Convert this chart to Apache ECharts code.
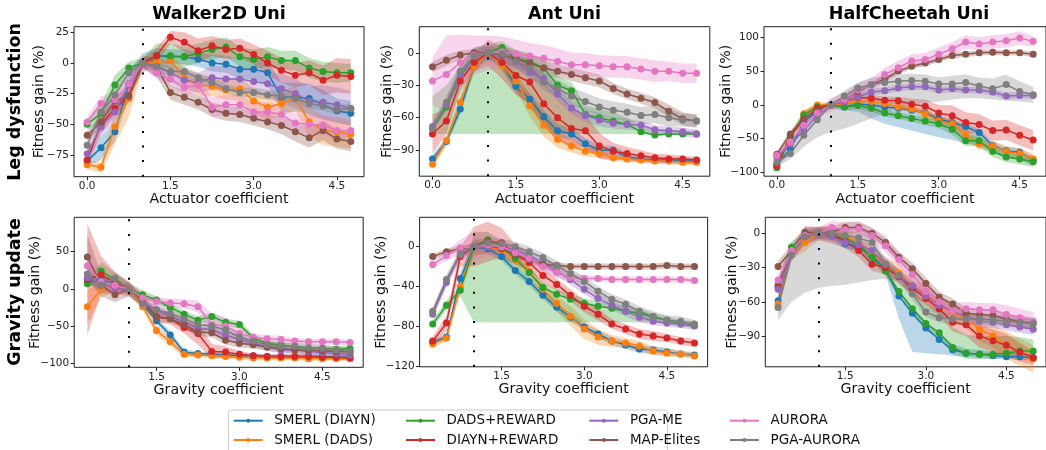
<!DOCTYPE html>
<html><head><meta charset="utf-8">
<script src="https://cdn.jsdelivr.net/npm/echarts@6/dist/echarts.min.js"></script>
<style>html,body{margin:0;padding:0;background:#fff}#c{width:1046px;height:450px}</style>
</head><body><div id="c"></div>
<script>
const X_TOP = [0,0.25,0.5,0.75,1,1.25,1.5,1.75,2,2.25,2.5,2.75,3,3.25,3.5,3.75,4,4.25,4.5,4.75];
const X_BOT = [0.25,0.5,0.75,1,1.25,1.5,1.75,2,2.25,2.5,2.75,3,3.25,3.5,3.75,4,4.25,4.5,4.75,5];
const METHODS = ['SMERL (DIAYN)','SMERL (DADS)','DADS+REWARD','DIAYN+REWARD','PGA-ME','MAP-Elites','AURORA','PGA-AURORA'];
const COLORS = ['#1f77b4','#ff7f0e','#2ca02c','#d62728','#9467bd','#8c564b','#e377c2','#7f7f7f'];
const TITLES = ['Walker2D Uni','Ant Uni','HalfCheetah Uni'];
const ROWS = ['Leg dysfunction','Gravity update'];
const X_NAMES = ['Actuator coefficient','Gravity coefficient'];
const Y_NAME = 'Fitness gain (%)';
const X_TICKS_TOP = [0,1.5,3,4.5];
const X_TICKS_BOT = [1.5,3,4.5];
const Y_TICKS = [[25,0,-25,-50,-75],[0,-30,-60,-90],[100,50,0,-50,-100],[50,0,-50,-100],[0,-40,-80,-120],[0,-30,-60,-90]];

// ---- Walker2D leg dysfunction
const wl_smerlDiayn=[-80,-69,-56,-17,0,6,5,5,3,0,-1,-5,-5,-8,-28,-28,-29,-34,-39,-41];
const wl_smerlDads=[-83,-85,-52,-29,0,0,2,-12,-18,-19,-22,-21,-31,-36,-33,-29,-48,-55,-56,-58];
const wl_dadsRew=[-50,-41,-18,-4,0,6,6,5,8,11,13,5,3,5,2,2,-4,-7,-8,-8];
const wl_diaynRew=[-79,-50,-37,-27,0,6,21,17,10,14,11,12,7,0,-6,-10,-8,-14,-10,-11];
const wl_pgaMe=[-74,-52,-40,-18,0,-3,-8,-14,-16,-12,-13,-13,-15,-17,-21,-25,-31,-32,-34,-37];
const wl_mapEl=[-59,-48,-31,-27,0,-3,-24,-28,-32,-38,-41,-42,-45,-48,-51,-56,-61,-55,-62,-64];
const wl_aurora=[-48,-33,-30,-17,0,-8,-13,-20,-18,-36,-34,-34,-40,-40,-42,-49,-50,-51,-55,-55];
const wl_pgaAurora=[-67,-40,-26,-8,0,-3,-7,-7,-12,-16,-21,-24,-24,-26,-27,-29,-33,-35,-38,-37];
const wl_smerlDiayn_sd=[4,10,8,10,8,6,6,6,6,7,7,8,8,10,12,12,12,12,10,10];
const wl_smerlDads_sd=[4,4,14,15,6,5,6,8,8,8,8,10,10,10,10,10,12,12,12,12];
const wl_dadsRew_sd=[4,8,8,5,4,10,10,8,8,8,8,8,8,8,8,8,8,8,8,7];
const wl_diaynRew_sd=[4,8,6,5,4,6,5,8,10,8,8,8,8,10,10,10,10,12,14,14];
const wl_pgaMe_sd=[4,6,8,5,4,8,8,8,8,10,10,10,10,10,12,12,12,14,14,14];
const wl_mapEl_sd=[4,5,6,4,4,8,6,6,6,6,6,6,6,6,7,8,8,8,8,8];
const wl_aurora_sd=[4,6,6,6,4,5,6,6,6,8,8,8,8,8,8,8,8,8,8,6];
const wl_pgaAurora_sd=[4,5,5,4,4,4,4,4,4,4,4,4,4,4,4,4,4,4,4,4];

// ---- Ant leg dysfunction
const al_smerlDiayn=[-98,-82,-52,-12,0,-10,-31,-43,-59,-72,-75,-84,-90,-90,-96,-98,-99,-99,-100,-100];
const al_smerlDads=[-103,-81,-46,-12,0,-11,-26,-49,-67,-80,-86,-91,-93,-97,-98,-99,-100,-100,-101,-101];
const al_dadsRew=[-70,-50,-22,-3,0,5,-6,-8,-14,-30,-35,-57,-60,-63,-66,-73,-76,-75,-75,-75];
const al_diaynRew=[-75,-63,-26,-9,0,-9,-21,-27,-47,-60,-70,-72,-86,-91,-93,-95,-97,-98,-98,-99];
const al_pgaMe=[-68,-48,-20,-3,0,-2,-8,-18,-24,-38,-51,-58,-62,-65,-66,-67,-71,-72,-73,-75];
const al_mapEl=[-13,-7,-2,0,0,-2,-5,-10,-14,-17,-20,-23,-26,-33,-38,-42,-46,-54,-61,-63];
const al_aurora=[-26,-20,-9,-2,0,1,-1,-3,-5,-8,-11,-11,-12,-13,-13,-15,-17,-17,-19,-19];
const al_pgaAurora=[-70,-46,-17,-3,0,-1,-8,-14,-27,-33,-40,-45,-50,-53,-55,-58,-57,-60,-62,-63];
const al_smerlDiayn_sd=[4,4,5,6,4,5,6,6,6,6,5,5,5,4,4,3,3,3,3,3];
const al_smerlDads_sd=[5,4,5,6,4,6,8,10,10,8,6,5,4,3,3,3,3,3,3,3];
const al_dadsRew_sd=[30,20,10,8,8,6,8,8,8,8,8,8,8,8,6,5,5,4,3,3];
const al_dadsRew_lo=[-75,-75,-75,-75,-75,-75,-75,-75,-75,-75,-75,-75,-75,-75,-75,-75,-77,-76,-76,-76];
const al_diaynRew_sd=[18,12,8,8,12,15,18,20,20,20,18,15,12,8,6,5,4,4,3,3];
const al_pgaMe_sd=[4,5,6,5,6,6,6,6,6,6,6,6,6,5,5,4,4,4,4,4];
const al_mapEl_sd=[5,5,4,4,6,8,8,8,8,6,6,6,6,5,5,5,5,6,6,6];
const al_aurora_sd=[22,36,26,18,16,14,13,12,12,12,11,11,10,10,10,10,10,9,9,9];
const al_pgaAurora_sd=[5,6,8,8,8,8,8,8,8,8,8,8,8,8,8,8,8,8,6,6];

// ---- HalfCheetah leg dysfunction
const hl_smerlDiayn=[-88,-65,-25,-10,0,-3,1,0,-3,-5,-8,-12,-21,-26,-32,-41,-60,-68,-70,-82];
const hl_smerlDads=[-91,-50,-13,0,0,2,5,5,2,-3,-6,-13,-24,-28,-44,-58,-61,-69,-72,-80];
const hl_dadsRew=[-93,-48,-15,-3,0,-3,-1,-5,-12,-16,-20,-24,-28,-36,-53,-53,-69,-77,-80,-84];
const hl_diaynRew=[-90,-45,-22,-5,0,5,11,10,7,6,1,-2,-12,-16,-26,-29,-38,-37,-45,-52];
const hl_pgaMe=[-78,-58,-38,-15,0,5,12,19,21,25,27,27,22,24,22,22,19,13,14,14];
const hl_mapEl=[-73,-43,-20,-8,0,8,20,30,38,50,57,62,67,73,75,77,78,77,77,75];
const hl_aurora=[-75,-55,-30,-12,0,8,22,30,45,55,65,67,75,83,93,90,93,95,99,94];
const hl_pgaAurora=[-85,-72,-45,-22,0,13,25,30,33,35,36,35,31,31,33,28,24,30,20,15];
const hl_smerlDiayn_sd=[4,6,6,4,3,4,4,4,4,4,4,4,4,4,5,5,5,6,6,6];
const hl_smerlDiayn_lo=[-92,-72,-32,-15,-5,-8,-10,-20,-28,-33,-38,-43,-48,-52,-57,-60,-70,-78,-82,-90];
const hl_smerlDads_sd=[4,5,5,4,3,5,5,5,5,5,5,6,8,8,8,8,8,8,8,8];
const hl_dadsRew_sd=[4,8,6,4,3,5,5,5,5,5,5,6,6,8,8,8,8,8,8,8];
const hl_diaynRew_sd=[4,5,5,4,3,5,5,5,5,6,8,10,12,15,15,15,15,15,15,15];
const hl_pgaMe_sd=[4,5,5,4,3,5,5,5,5,5,5,5,5,5,5,5,5,5,5,5];
const hl_mapEl_sd=[4,4,4,4,3,4,4,4,4,4,4,4,4,4,4,4,4,4,4,4];
const hl_aurora_sd=[4,5,5,5,10,10,10,10,10,10,10,10,10,10,10,10,10,10,10,8];
const hl_pgaAurora_sd=[4,5,6,6,8,8,8,10,10,10,10,10,10,12,12,12,15,15,15,12];
const hl_pgaAurora_lo=[-92,-80,-62,-48,-40,-35,-28,-20,-12,-5,0,3,5,8,10,10,8,6,5,3];

// ---- Walker2D gravity update
const wg_smerlDiayn=[10,12,5,0,-20,-43,-62,-85,-87,-88,-89,-90,-90,-91,-91,-91,-91,-91,-92,-92];
const wg_smerlDads=[-24,0,5,0,-24,-56,-71,-88,-89,-90,-91,-92,-93,-93,-93,-93,-94,-94,-94,-94];
const wg_dadsRew=[7,24,12,0,-8,-15,-25,-34,-42,-37,-45,-48,-66,-73,-75,-78,-80,-80,-81,-80];
const wg_diaynRew=[13,19,8,0,-15,-37,-40,-52,-60,-84,-85,-88,-90,-91,-91,-91,-91,-92,-92,-93];
const wg_pgaMe=[15,8,0,0,-18,-28,-37,-45,-53,-55,-62,-68,-73,-78,-82,-82,-84,-86,-87,-89];
const wg_mapEl=[43,5,-8,0,-18,-38,-40,-48,-58,-59,-69,-73,-75,-78,-80,-82,-83,-83,-84,-85];
const wg_aurora=[31,10,5,0,-12,-17,-19,-20,-24,-48,-50,-60,-65,-67,-68,-70,-71,-71,-71,-72];
const wg_pgaAurora=[20,5,14,0,-20,-28,-33,-40,-48,-50,-55,-65,-70,-75,-77,-77,-79,-80,-82,-84];
const wg_smerlDiayn_sd=[6,6,5,4,4,5,5,4,3,3,3,3,3,3,3,3,3,3,3,3];
const wg_smerlDads_sd=[22,12,8,6,5,6,6,4,3,3,3,3,3,3,3,3,3,3,3,3];
const wg_dadsRew_sd=[5,12,10,8,6,5,5,5,5,5,5,5,5,4,4,4,4,4,4,4];
const wg_diaynRew_sd=[75,25,15,10,8,8,8,8,15,10,8,5,3,3,3,3,3,3,3,3];
const wg_pgaMe_sd=[8,8,8,6,5,6,6,6,6,6,6,6,5,5,5,5,5,5,5,5];
const wg_mapEl_sd=[30,15,10,10,6,6,6,6,6,6,6,6,5,5,5,5,5,5,5,5];
const wg_aurora_sd=[10,10,8,8,6,6,6,6,8,15,12,8,5,5,5,4,4,4,4,4];
const wg_pgaAurora_sd=[10,10,8,8,5,5,5,5,6,6,6,6,5,5,5,5,5,5,5,5];

// ---- Ant gravity update
const ag_smerlDiayn=[-96,-91,-32,0,-2,-10,-24,-35,-49,-61,-71,-81,-88,-95,-99,-103,-104,-106,-108,-109];
const ag_smerlDads=[-98,-92,-40,0,0,-3,-13,-25,-43,-57,-70,-83,-91,-95,-97,-100,-105,-107,-108,-110];
const ag_dadsRew=[-78,-59,-44,0,7,0,-12,-26,-41,-48,-53,-57,-60,-62,-65,-67,-71,-74,-78,-79];
const ag_diaynRew=[-95,-77,-10,0,5,4,-8,-16,-29,-38,-49,-60,-68,-78,-83,-88,-90,-92,-95,-97];
const ag_pgaMe=[-68,-36,-8,0,0,0,-3,-9,-16,-25,-33,-43,-52,-59,-65,-71,-75,-77,-78,-80];
const ag_mapEl=[-10,-5,-2,0,2,-2,-8,-13,-18,-19,-20,-20,-20,-20,-20,-20,-20,-19,-20,-20];
const ag_aurora=[-18,-9,-1,0,2,0,-6,-12,-20,-26,-31,-32,-32,-33,-33,-33,-33,-33,-33,-34];
const ag_pgaAurora=[-65,-33,-7,0,4,3,0,-5,-11,-19,-27,-35,-45,-53,-58,-65,-70,-74,-75,-78];
const ag_smerlDiayn_sd=[3,3,6,8,5,4,4,4,4,4,4,4,4,4,4,4,4,4,3,3];
const ag_smerlDads_sd=[3,4,8,10,6,6,6,6,6,8,10,10,8,6,5,5,4,4,3,3];
const ag_dadsRew_sd=[4,5,5,15,8,5,5,5,5,5,5,5,5,5,5,5,4,4,4,4];
const ag_dadsRew_lo=[-82,-64,-50,-76,-76,-76,-76,-76,-76,-76,-76,-76,-76,-76,-76,-76,-76,-78,-80,-82];
const ag_diaynRew_sd=[4,8,10,20,20,15,10,8,8,6,6,6,6,5,5,5,5,4,4,4];
const ag_pgaMe_sd=[4,5,5,5,5,5,5,5,5,5,5,5,5,5,5,5,4,4,4,4];
const ag_mapEl_sd=[3,3,3,3,3,3,3,3,3,3,3,3,3,3,3,3,3,3,3,3];
const ag_aurora_sd=[4,5,8,15,12,8,6,5,5,5,4,3,3,3,3,3,3,3,3,3];
const ag_pgaAurora_sd=[4,5,5,5,5,5,5,5,5,5,5,5,5,5,5,5,5,5,5,4];

// ---- HalfCheetah gravity update
const hg_smerlDiayn=[-59,-18,-3,0,-1,-9,-12,-20,-32,-55,-70,-83,-93,-102,-105,-106,-107,-108,-108,-109];
const hg_smerlDads=[-62,-18,-8,0,-1,-3,-7,-18,-27,-35,-46,-54,-62,-70,-75,-84,-90,-98,-104,-110];
const hg_dadsRew=[-45,-12,-2,0,-1,-5,-10,-21,-33,-51,-66,-79,-87,-100,-105,-106,-106,-105,-103,-103];
const hg_diaynRew=[-47,-18,-2,0,-1,-7,-15,-27,-30,-38,-48,-57,-66,-78,-80,-90,-94,-98,-104,-109];
const hg_pgaMe=[-49,-18,-3,0,-3,-8,-10,-15,-27,-37,-46,-55,-63,-68,-73,-77,-78,-80,-82,-84];
const hg_mapEl=[-29,-15,1,0,1,5,5,0,-8,-21,-31,-44,-56,-62,-70,-71,-72,-75,-77,-79];
const hg_aurora=[-41,-15,-2,0,5,3,4,-2,-11,-23,-36,-51,-60,-68,-66,-67,-67,-71,-74,-77];
const hg_pgaAurora=[-65,-19,-3,0,0,-2,-4,-8,-27,-37,-53,-69,-74,-75,-75,-75,-76,-77,-78,-79];
const hg_smerlDiayn_sd=[5,5,4,3,3,3,3,4,4,5,6,6,6,5,4,4,3,3,3,3];
const hg_smerlDiayn_lo=[-65,-25,-8,-5,-5,-13,-16,-25,-36,-75,-104,-105,-106,-107,-108,-109,-110,-110,-111,-111];
const hg_smerlDads_sd=[6,5,8,6,5,6,6,6,6,8,8,8,8,8,8,10,10,12,12,12];
const hg_dadsRew_sd=[5,5,4,3,3,3,3,4,4,5,6,6,6,6,5,4,4,4,4,4];
const hg_dadsRew_hiSd=[5,5,4,3,3,3,3,5,5,8,15,18,20,18,16,16,16,15,12,10];
const hg_diaynRew_sd=[6,5,8,6,8,6,6,6,6,6,6,6,6,8,10,10,10,10,8,6];
const hg_pgaMe_sd=[5,5,6,5,4,5,5,5,6,6,6,6,6,6,5,5,5,5,5,5];
const hg_mapEl_sd=[5,5,5,5,5,5,5,5,5,5,5,5,5,5,5,5,5,5,5,5];
const hg_aurora_sd=[5,5,5,5,6,6,6,6,6,6,6,6,6,6,6,6,6,8,8,8];
const hg_pgaAurora_sd=[5,5,5,5,5,5,5,5,5,5,5,5,5,5,5,5,5,5,5,5];
const hg_pgaAurora_lo=[-76,-60,-52,-48,-46,-45,-43,-41,-40,-42,-58,-73,-78,-80,-80,-80,-81,-82,-83,-84];

// ---------- build ----------
function S(mean, sd, loAbs, hiSd) {
  return { mean: mean,
    lo: mean.map((v,i) => loAbs ? loAbs[i] : v - sd[i]),
    hi: mean.map((v,i) => v + (hiSd ? hiSd[i] : sd[i])) };
}
const PANELS = [
  { x: X_TOP, s: [S(wl_smerlDiayn,wl_smerlDiayn_sd),S(wl_smerlDads,wl_smerlDads_sd),S(wl_dadsRew,wl_dadsRew_sd),S(wl_diaynRew,wl_diaynRew_sd),S(wl_pgaMe,wl_pgaMe_sd),S(wl_mapEl,wl_mapEl_sd),S(wl_aurora,wl_aurora_sd),S(wl_pgaAurora,wl_pgaAurora_sd)] },
  { x: X_TOP, s: [S(al_smerlDiayn,al_smerlDiayn_sd),S(al_smerlDads,al_smerlDads_sd),S(al_dadsRew,al_dadsRew_sd,al_dadsRew_lo),S(al_diaynRew,al_diaynRew_sd),S(al_pgaMe,al_pgaMe_sd),S(al_mapEl,al_mapEl_sd),S(al_aurora,al_aurora_sd),S(al_pgaAurora,al_pgaAurora_sd)] },
  { x: X_TOP, s: [S(hl_smerlDiayn,hl_smerlDiayn_sd,hl_smerlDiayn_lo),S(hl_smerlDads,hl_smerlDads_sd),S(hl_dadsRew,hl_dadsRew_sd),S(hl_diaynRew,hl_diaynRew_sd),S(hl_pgaMe,hl_pgaMe_sd),S(hl_mapEl,hl_mapEl_sd),S(hl_aurora,hl_aurora_sd),S(hl_pgaAurora,hl_pgaAurora_sd,hl_pgaAurora_lo)] },
  { x: X_BOT, s: [S(wg_smerlDiayn,wg_smerlDiayn_sd),S(wg_smerlDads,wg_smerlDads_sd),S(wg_dadsRew,wg_dadsRew_sd),S(wg_diaynRew,wg_diaynRew_sd),S(wg_pgaMe,wg_pgaMe_sd),S(wg_mapEl,wg_mapEl_sd),S(wg_aurora,wg_aurora_sd),S(wg_pgaAurora,wg_pgaAurora_sd)] },
  { x: X_BOT, s: [S(ag_smerlDiayn,ag_smerlDiayn_sd),S(ag_smerlDads,ag_smerlDads_sd),S(ag_dadsRew,ag_dadsRew_sd,ag_dadsRew_lo),S(ag_diaynRew,ag_diaynRew_sd),S(ag_pgaMe,ag_pgaMe_sd),S(ag_mapEl,ag_mapEl_sd),S(ag_aurora,ag_aurora_sd),S(ag_pgaAurora,ag_pgaAurora_sd)] },
  { x: X_BOT, s: [S(hg_smerlDiayn,hg_smerlDiayn_sd,hg_smerlDiayn_lo),S(hg_smerlDads,hg_smerlDads_sd),S(hg_dadsRew,hg_dadsRew_sd,null,hg_dadsRew_hiSd),S(hg_diaynRew,hg_diaynRew_sd),S(hg_pgaMe,hg_pgaMe_sd),S(hg_mapEl,hg_mapEl_sd),S(hg_aurora,hg_aurora_sd),S(hg_pgaAurora,hg_pgaAurora_sd,hg_pgaAurora_lo)] }
];

// layout (pixels) of the six axes boxes
const GRIDS = [
  {left:74, top:26.7, width:290, height:150},
  {left:419.3, top:26.7, width:290.5, height:149.5},
  {left:764, top:26.7, width:290.5, height:149.5},
  {left:74.2, top:217.3, width:289, height:150},
  {left:419.6, top:217.3, width:288, height:149.5},
  {left:765.3, top:217.3, width:288, height:149.5}
];
const X_RANGE = [[-0.2375,4.9875],[0.0125,5.2375]];
const Y_RANGE = [[-92.7,29.6],[-114,24.1],[-105.5,115.7],[-105.4,96.2],[-121,29.6],[-116.9,14]];
const Y_NAME_X = [39.5, 387, 726, 35, 381, 732];

const FONT = 'DejaVu Sans';
const fmtY = v => (v < 0 ? '\u2212' : '') + Math.abs(v);

const grid = GRIDS.map(g => Object.assign({show:true, borderColor:'#222', borderWidth:1, backgroundColor:'transparent', containLabel:false}, g));
const xAxis = [], yAxis = [], series = [];

PANELS.forEach((p, k) => {
  const row = k < 3 ? 0 : 1;
  const xt = row === 0 ? X_TICKS_TOP : X_TICKS_BOT;
  xAxis.push({
    type:'value', gridIndex:k, min:X_RANGE[row][0], max:X_RANGE[row][1], position:'bottom',
    axisLine:{show:false, onZero:false}, splitLine:{show:false},
    axisTick:{show:true, length:3.5, lineStyle:{color:'#222'}, customValues:xt},
    axisLabel:{show:true, customValues:xt, formatter:v=>v.toFixed(1), fontSize:10.5, color:'#222', margin:4, fontFamily:FONT},
    name: X_NAMES[row], nameLocation:'middle', nameGap: row===0?13.5:12.5,
    nameTextStyle:{fontSize:14.2, color:'#111', fontFamily:FONT}
  });
  yAxis.push({
    type:'value', gridIndex:k, min:Y_RANGE[k][0], max:Y_RANGE[k][1], position:'left',
    axisLine:{show:false, onZero:false}, splitLine:{show:false},
    axisTick:{show:true, length:3.5, lineStyle:{color:'#222'}, customValues:Y_TICKS[k]},
    axisLabel:{show:true, customValues:Y_TICKS[k], formatter:fmtY, fontSize:10.5, color:'#222', margin:5, fontFamily:FONT}
  });
  // bands
  p.s.forEach((d, m) => {
    const col = COLORS[m];
    series.push({
      type:'custom', name:'band'+k+'_'+m, xAxisIndex:k, yAxisIndex:k, z:1, silent:true,
      data: p.x.map((x,i) => [x, d.lo[i], d.hi[i]]),
      encode:{x:0, y:[1,2]},
      renderItem: function(params, api){
        if (params.dataIndexInside !== 0) return null;
        const n = params.dataInsideLength, up = [], dn = [];
        for (let i = 0; i < n; i++) {
          const xv = api.value(0, i);
          dn.push(api.coord([xv, api.value(1, i)]));
          up.push(api.coord([xv, api.value(2, i)]));
        }
        return {type:'polygon', shape:{points: dn.concat(up.reverse())}, style:{fill: col, opacity:0.3}};
      }
    });
  });
  // lines
  p.s.forEach((d, m) => {
    const o = {
      type:'line', name:METHODS[m], xAxisIndex:k, yAxisIndex:k, z:2,
      data: p.x.map((x,i) => [x, d.mean[i]]),
      symbol:'circle', symbolSize:7, showSymbol:true,
      lineStyle:{width:1.5, color:COLORS[m]}, itemStyle:{color:COLORS[m]},
      emphasis:{disabled:true}, silent:true
    };
    if (m === 7) {
      o.markLine = {silent:true, symbol:['none','none'], label:{show:false},
        lineStyle:{color:'#000', type:[2,12.6], width:2}, emphasis:{disabled:true},
        data:[{xAxis:1}]};
    }
    series.push(o);
  });
});

const LEG_X = [232.7, 405, 588.3, 729];
const legend = LEG_X.map((lx, c) => ({
  data:[METHODS[2*c], METHODS[2*c+1]], orient:'vertical', left:lx, top:413.2,
  itemWidth:29, itemHeight:5, itemGap:4.3, padding:0, selectedMode:false,
  formatter: n => '{t|' + n + '}',
  textStyle:{fontSize:13.5, color:'#111', fontFamily:FONT, lineHeight:15,
    rich:{t:{fontSize:13.5, color:'#111', fontFamily:FONT, lineHeight:15, padding:[0,0,0,6.6]}}}
}));

const txt = (t, x, y, font, rot) => ({type:'text', x:x, y:y, rotation:rot||0,
  style:{text:t, font:font, fill:'#000', textAlign:'center', textVerticalAlign:'middle'}});
const graphic = [
  {type:'rect', z:-1, shape:{x:228.5, y:410, width:439, height:46, r:3}, style:{fill:'#fff', stroke:'#ccc', lineWidth:1}},
  txt(TITLES[0], 219, 14, 'bold 17.5px "DejaVu Sans"'),
  txt(TITLES[1], 564.5, 14, 'bold 17.5px "DejaVu Sans"'),
  txt(TITLES[2], 909, 14, 'bold 17.5px "DejaVu Sans"'),
  txt(ROWS[0], 15.5, 102, 'bold 17.5px "DejaVu Sans"', Math.PI/2),
  txt(ROWS[1], 15.5, 292, 'bold 17.5px "DejaVu Sans"', Math.PI/2)
];
GRIDS.forEach((g, k) => {
  const t = txt(Y_NAME, Y_NAME_X[k], g.top + g.height/2, '14.2px "DejaVu Sans"', Math.PI/2);
  t.style.fill = '#111';
  graphic.push(t);
});

const chart = echarts.init(document.getElementById('c'), null, {renderer:'canvas'});
chart.setOption({animation:false, backgroundColor:'#fff', textStyle:{fontFamily:FONT},
  grid, xAxis, yAxis, series, legend, graphic});
</script></body></html>
